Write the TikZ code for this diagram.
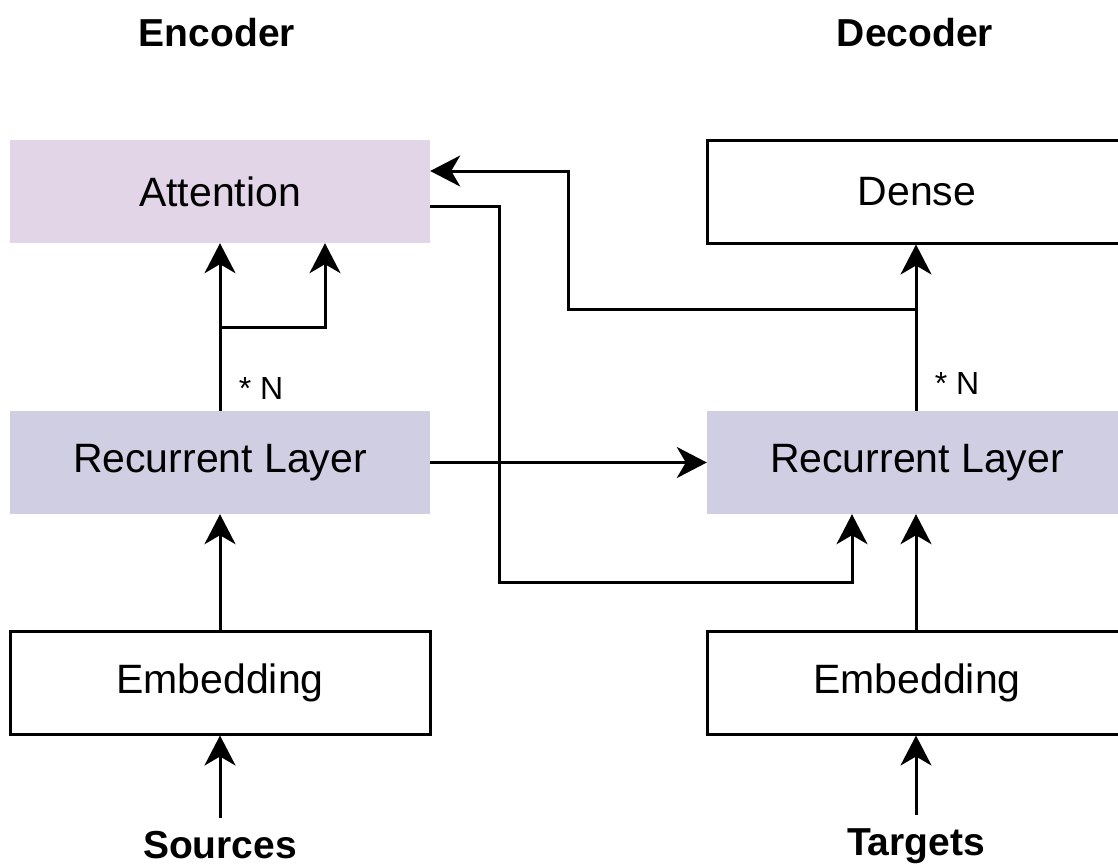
\documentclass[tikz,border=0pt]{standalone}
\usepackage{fontspec}
\setmainfont{Liberation Sans}
\usetikzlibrary{arrows.meta}
\definecolor{attfill}{HTML}{E1D5E7}
\definecolor{recfill}{HTML}{D0CEE2}
\begin{document}
\begin{tikzpicture}[x=1pt,y=-1pt,
  box/.style={rectangle, minimum width=420pt, minimum height=103pt, inner sep=0pt, font=\fontsize{41}{48}\selectfont},
  plainbox/.style={box, draw=black, line width=3pt, fill=white},
  title/.style={font=\fontsize{39}{46}\selectfont\bfseries, inner sep=0pt},
  endlbl/.style={font=\fontsize{39}{46}\selectfont\bfseries, inner xsep=0pt, inner ysep=13pt},
  nlbl/.style={font=\fontsize{32}{38}\selectfont, inner sep=0pt},
  arr/.style={line width=3pt, -{Stealth[length=30pt, width=31pt, inset=9pt]}},
  conn/.style={line width=3pt}
]
\useasboundingbox (0,0) rectangle (1118,867);
\clip (0,0) rectangle (1118,867);

\node[title] (enc) at (217,33) {Encoder};
\node[title] (dec) at (915,33) {Decoder};

\node[box, fill=attfill] (att) at (220,191.5) {Attention};
\node[plainbox] (dense) at (917,191.5) {Dense};
\node[box, fill=recfill] (recL) at (220,462.5) {Recurrent Layer};
\node[box, fill=recfill] (recR) at (917,462.5) {Recurrent Layer};
\node[plainbox] (embL) at (220,682.5) {Embedding};
\node[plainbox] (embR) at (917,682.5) {Embedding};

\node[endlbl, anchor=north] (src) at (220,818) {Sources};
\node[endlbl, anchor=north] (tgt) at (916,815) {Targets};

\node[nlbl] (nL) at (261,388) {* N};
\node[nlbl] (nR) at (957,383) {* N};

\coordinate (bL) at (220,327);
\coordinate (bR) at (916,309);

% encoder verticals
\draw[arr] (src.north) -- (embL.south);
\draw[arr] (embL.north) -- (recL.south);
\draw[arr] (recL.north) -- (att.south);
\draw[arr] (bL) -| ([xshift=105pt]att.south);

% decoder verticals
\draw[arr] (tgt.north) -- ([xshift=-1pt]embR.south);
\draw[arr] ([xshift=-1pt]embR.north) -- ([xshift=-1pt]recR.south);
\draw[arr] ([xshift=-1pt]recR.north) -- ([xshift=-1pt]dense.south);

% cross connections
\draw[arr] (recL.east) -- (recR.west);
\draw[arr] (bR) -| (568,240) |- ([yshift=20.5pt]att.east);
\draw[arr] ([yshift=-14.5pt]att.east) -| (499,582) -| ([xshift=-65pt]recR.south);
\end{tikzpicture}
\end{document}
